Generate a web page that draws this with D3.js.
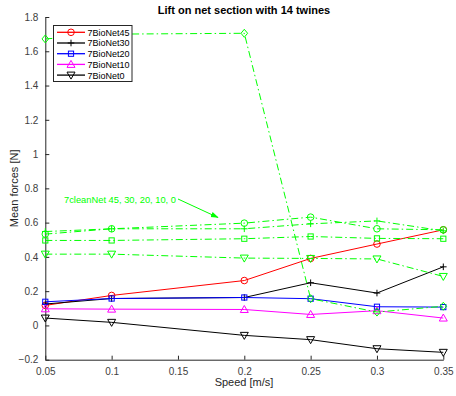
<!DOCTYPE html>
<html>
<head>
<meta charset="utf-8">
<script src="https://cdn.jsdelivr.net/npm/d3@7"></script>
<style>
  body { margin: 0; background: #fff; }
  svg { display: block; font-family: "Liberation Sans", Arial, Helvetica, sans-serif; }
</style>
</head>
<body>
<svg id="chart" width="456" height="396"></svg>
<script>
// Speeds tested [m/s]
const speeds = [0.05, 0.1, 0.2, 0.25, 0.3, 0.35];

// Mean lift forces [N], biofouled nets
const bioNet45 = [0.117, 0.175, 0.262, 0.391, 0.475, 0.558];
const bioNet30 = [0.125, 0.157, 0.163, 0.249, 0.189, 0.342];
const bioNet20 = [0.138, 0.157, 0.163, 0.156, 0.109, 0.107];
const bioNet10 = [0.097, 0.095, 0.093, 0.064, 0.086, 0.043];
const bioNet0  = [0.043, 0.018, -0.058, -0.083, -0.136, -0.157];

// Mean lift forces [N], clean nets
const cleanNet45 = [0.533, 0.564, 0.597, 0.632, 0.564, 0.558];
const cleanNet30 = [0.548, 0.564, 0.564, 0.593, 0.610, 0.552];
const cleanNet20 = [0.496, 0.496, 0.506, 0.519, 0.508, 0.506];
const cleanNet10 = [1.672, 1.700, 1.705, 0.156, 0.078, 0.112];
const cleanNet0  = [0.416, 0.416, 0.393, 0.391, 0.388, 0.286];

const xTicks = [0.05, 0.1, 0.15, 0.2, 0.25, 0.3, 0.35];
const yTicks = [-0.2, 0, 0.2, 0.4, 0.6, 0.8, 1.0, 1.2, 1.4, 1.6, 1.8];

const bioSeries = [
  { name: "7BioNet45", values: bioNet45, color: "#ff0000", marker: "circle" },
  { name: "7BioNet30", values: bioNet30, color: "#000000", marker: "plus" },
  { name: "7BioNet20", values: bioNet20, color: "#0000ff", marker: "square" },
  { name: "7BioNet10", values: bioNet10, color: "#ff00ff", marker: "triup" },
  { name: "7BioNet0",  values: bioNet0,  color: "#000000", marker: "tridown" }
];
const cleanSeries = [
  { name: "7cleanNet45", values: cleanNet45, color: "#00ff00", marker: "circle" },
  { name: "7cleanNet30", values: cleanNet30, color: "#00ff00", marker: "plus" },
  { name: "7cleanNet20", values: cleanNet20, color: "#00ff00", marker: "square" },
  { name: "7cleanNet10", values: cleanNet10, color: "#00ff00", marker: "diamond" },
  { name: "7cleanNet0",  values: cleanNet0,  color: "#00ff00", marker: "tridown" }
];

const svg = d3.select("#chart");
const x = d3.scaleLinear().domain([0.05, 0.35]).range([45.3, 443.3]);
const y = d3.scaleLinear().domain([-0.2, 1.8]).range([359.7, 17]);

const axisColor = "#262626";

// Axes (left and bottom only, ticks pointing inward)
const xAxis = svg.append("g").attr("transform", `translate(0,${y(-0.2)})`)
  .call(d3.axisBottom(x).tickValues(xTicks).tickSizeInner(-4).tickSizeOuter(0)
    .tickPadding(8).tickFormat(d3.format("~g")));
const yAxis = svg.append("g").attr("transform", `translate(${x(0.05)},0)`)
  .call(d3.axisLeft(y).tickValues(yTicks).tickSizeInner(-4).tickSizeOuter(0)
    .tickPadding(7).tickFormat(d => d3.format("~g")(Math.round(d * 10) / 10)));
[xAxis, yAxis].forEach(g => {
  g.select(".domain").attr("stroke", axisColor).attr("stroke-width", 1);
  g.selectAll(".tick line").attr("stroke", axisColor);
  g.selectAll(".tick text").attr("fill", "#404040").style("font-size", "10px")
    .style("font-family", "'Liberation Sans', Arial, sans-serif");
});

// Marker drawing
function drawMarker(g, type, cx, cy, color) {
  const s = 3.3;
  if (type === "circle") {
    g.append("circle").attr("cx", cx).attr("cy", cy).attr("r", s)
      .attr("fill", "none").attr("stroke", color);
  } else if (type === "plus") {
    g.append("path").attr("d", `M${cx - s},${cy}H${cx + s}M${cx},${cy - s}V${cy + s}`)
      .attr("stroke", color).attr("fill", "none");
  } else if (type === "square") {
    g.append("rect").attr("x", cx - 2.6).attr("y", cy - 2.6).attr("width", 5.2).attr("height", 5.2)
      .attr("fill", "none").attr("stroke", color);
  } else if (type === "triup") {
    g.append("path").attr("d", `M${cx},${cy - 4}L${cx + 4},${cy + 3}L${cx - 4},${cy + 3}Z`)
      .attr("fill", "none").attr("stroke", color);
  } else if (type === "tridown") {
    g.append("path").attr("d", `M${cx},${cy + 4}L${cx + 4},${cy - 3}L${cx - 4},${cy - 3}Z`)
      .attr("fill", "none").attr("stroke", color);
  } else if (type === "diamond") {
    g.append("path").attr("d", `M${cx},${cy - 4}L${cx + 3.3},${cy}L${cx},${cy + 4}L${cx - 3.3},${cy}Z`)
      .attr("fill", "none").attr("stroke", color);
  }
}

const line = d3.line().x((d, i) => x(speeds[i])).y(d => y(d));

function drawSeries(series, dash) {
  series.forEach(s => {
    const g = svg.append("g");
    g.append("path").datum(s.values).attr("d", line)
      .attr("fill", "none").attr("stroke", s.color).attr("stroke-width", 1)
      .attr("stroke-dasharray", dash);
    s.values.forEach((v, i) => drawMarker(g, s.marker, x(speeds[i]), y(v), s.color));
  });
}

drawSeries(bioSeries, null);
drawSeries(cleanSeries, "7,3,1.5,3");

// Title and axis labels
svg.append("text").attr("x", 244).attr("y", 14).attr("text-anchor", "middle")
  .style("font-size", "11px").style("font-weight", "bold").attr("fill", "#000")
  .text("Lift on net section with 14 twines");
svg.append("text").attr("x", 244).attr("y", 386).attr("text-anchor", "middle")
  .style("font-size", "11px").attr("fill", "#262626").text("Speed [m/s]");
svg.append("text").attr("transform", `translate(18,${y(0.8)}) rotate(-90)`)
  .attr("text-anchor", "middle").style("font-size", "11px").attr("fill", "#262626")
  .text("Mean forces [N]");

// Annotation for the clean-net curves
svg.append("defs").append("marker").attr("id", "arrowhead")
  .attr("viewBox", "0 0 10 10").attr("refX", 9).attr("refY", 5)
  .attr("markerWidth", 8).attr("markerHeight", 8).attr("orient", "auto")
  .append("path").attr("d", "M0,1.5L10,5L0,8.5Z").attr("fill", "#00ff00");
svg.append("text").attr("x", 64).attr("y", 202.5).style("font-size", "9.5px")
  .attr("fill", "#00ff00").attr("textLength", 112).attr("lengthAdjust", "spacingAndGlyphs")
  .text("7cleanNet 45, 30, 20, 10, 0");
svg.append("line").attr("x1", 178).attr("y1", 199).attr("x2", 218).attr("y2", 217.5)
  .attr("stroke", "#00ff00").attr("stroke-width", 1).attr("marker-end", "url(#arrowhead)");

// Legend
const legend = svg.append("g");
legend.append("rect").attr("x", 53.5).attr("y", 25.5).attr("width", 78.5).attr("height", 56)
  .attr("fill", "#fff").attr("stroke", axisColor).attr("stroke-width", 1);
bioSeries.forEach((s, i) => {
  const ly = 32.3 + i * 10.7;
  const g = legend.append("g");
  g.append("line").attr("x1", 57).attr("x2", 85).attr("y1", ly).attr("y2", ly)
    .attr("stroke", s.color).attr("stroke-width", 1.3);
  drawMarker(g, s.marker, 71, ly, s.color);
  g.append("text").attr("x", 87.5).attr("y", ly + 3.4).style("font-size", "9px")
    .attr("fill", "#000").text(s.name);
});
</script>
</body>
</html>
